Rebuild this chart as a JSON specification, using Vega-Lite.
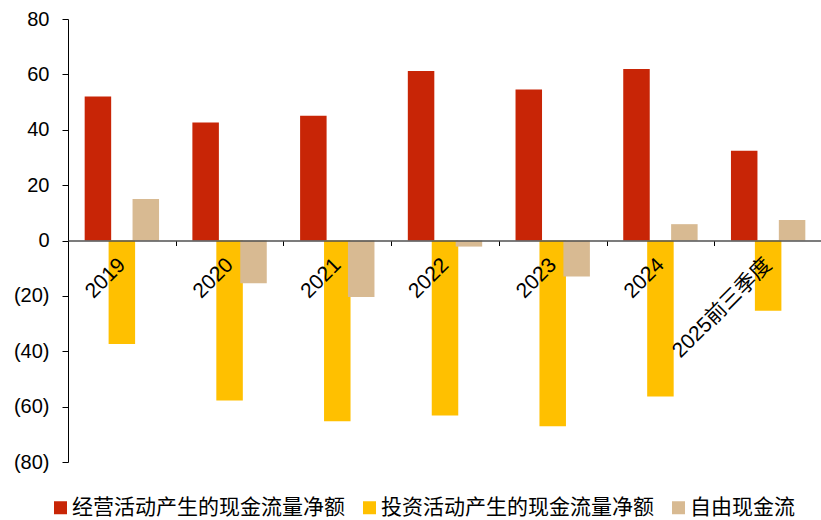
{
  "$schema": "https://vega.github.io/schema/vega-lite/v6.json",
  "width": 754,
  "height": 443,
  "autosize": "none",
  "padding": {"left": 68, "top": 19, "right": 0, "bottom": 58},
  "background": "white",
  "config": {
    "view": {"stroke": null},
    "font": "Liberation Sans, Arial, Noto Sans CJK SC",
    "axis": {"grid": false, "labelColor": "black", "labelFontSize": 20, "titleFontSize": 20}
  },
  "data": {
    "values": [
      {"year": "2019", "series": "经营活动产生的现金流量净额", "value": 52.0},
      {"year": "2019", "series": "投资活动产生的现金流量净额", "value": -37.4},
      {"year": "2019", "series": "自由现金流", "value": 15.0},
      {"year": "2020", "series": "经营活动产生的现金流量净额", "value": 42.6},
      {"year": "2020", "series": "投资活动产生的现金流量净额", "value": -57.8},
      {"year": "2020", "series": "自由现金流", "value": -15.4},
      {"year": "2021", "series": "经营活动产生的现金流量净额", "value": 45.1},
      {"year": "2021", "series": "投资活动产生的现金流量净额", "value": -65.3},
      {"year": "2021", "series": "自由现金流", "value": -20.4},
      {"year": "2022", "series": "经营活动产生的现金流量净额", "value": 61.2},
      {"year": "2022", "series": "投资活动产生的现金流量净额", "value": -63.2},
      {"year": "2022", "series": "自由现金流", "value": -2.2},
      {"year": "2023", "series": "经营活动产生的现金流量净额", "value": 54.5},
      {"year": "2023", "series": "投资活动产生的现金流量净额", "value": -67.1},
      {"year": "2023", "series": "自由现金流", "value": -13.0},
      {"year": "2024", "series": "经营活动产生的现金流量净额", "value": 61.9},
      {"year": "2024", "series": "投资活动产生的现金流量净额", "value": -56.3},
      {"year": "2024", "series": "自由现金流", "value": 5.9},
      {"year": "2025前三季度", "series": "经营活动产生的现金流量净额", "value": 32.4},
      {"year": "2025前三季度", "series": "投资活动产生的现金流量净额", "value": -25.4},
      {"year": "2025前三季度", "series": "自由现金流", "value": 7.4}
    ]
  },
  "mark": {"type": "bar", "width": 26.5},
  "encoding": {
    "x": {
      "field": "year",
      "type": "nominal",
      "sort": null,
      "title": null,
      "scale": {"paddingInner": 0, "paddingOuter": 0},
      "axis": {
        "zindex": 1,
        "offset": -221.5,
        "domainColor": "#505050",
        "domainWidth": 1.6,
        "tickBand": "extent",
        "tickColor": "black",
        "tickSize": 5,
        "tickWidth": 1,
        "labelAngle": -45,
        "labelAlign": "right",
        "labelBaseline": "middle",
        "labelPadding": 16,
        "labelFontSize": 21,
        "labelLimit": 300
      }
    },
    "xOffset": {
      "field": "series",
      "type": "nominal",
      "sort": ["经营活动产生的现金流量净额", "投资活动产生的现金流量净额", "自由现金流"],
      "scale": {"paddingInner": 0, "paddingOuter": 0.75}
    },
    "y": {
      "field": "value",
      "type": "quantitative",
      "title": null,
      "scale": {"domain": [-80, 80], "nice": false, "zero": false},
      "axis": {
        "values": [-80, -60, -40, -20, 0, 20, 40, 60, 80],
        "labelExpr": "datum.value < 0 ? '(' + abs(datum.value) + ')' : datum.value + '\u00a0'",
        "domainColor": "black",
        "domainWidth": 1,
        "tickColor": "black",
        "tickSize": 6,
        "tickWidth": 1,
        "labelPadding": 13,
        "labelFontSize": 20
      }
    },
    "color": {
      "field": "series",
      "type": "nominal",
      "title": null,
      "scale": {
        "domain": ["经营活动产生的现金流量净额", "投资活动产生的现金流量净额", "自由现金流"],
        "range": ["#C82506", "#FFC000", "#D8BA92"]
      },
      "legend": {
        "orient": "none",
        "direction": "horizontal",
        "legendX": -18,
        "legendY": 478,
        "padding": 0,
        "symbolType": "square",
        "symbolSize": 169,
        "symbolStrokeWidth": 0,
        "symbolOpacity": 1,
        "labelFontSize": 21,
        "labelFont": "Noto Sans CJK SC",
        "labelColor": "black",
        "labelOffset": 1,
        "labelLimit": 400,
        "columnPadding": 14
      }
    }
  }
}
